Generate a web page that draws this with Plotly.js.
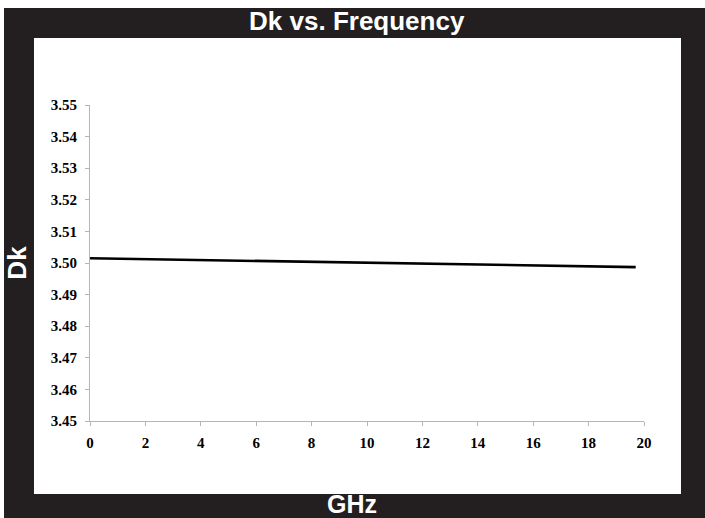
<!DOCTYPE html>
<html>
<head>
<meta charset="utf-8">
<script src="https://cdn.plot.ly/plotly-3.0.1.min.js"></script>
<style>html,body{margin:0;padding:0;background:#fff;}#chart{width:705px;height:518px;}</style>
</head>
<body>
<div id="chart"></div>
<script>
// Data
var freqGHz = [0, 5, 10, 15, 19.7];
var dkValues = [3.5015, 3.5008, 3.5001, 3.4994, 3.4987];
var xTickVals = [0, 2, 4, 6, 8, 10, 12, 14, 16, 18, 20];
var yTickVals = [3.45, 3.46, 3.47, 3.48, 3.49, 3.50, 3.51, 3.52, 3.53, 3.54, 3.55];
var chartTitle = 'Dk vs. Frequency';
var xTitle = 'GHz';
var yTitle = 'Dk';

var frameColor = '#231f20';
var tickFont = {family: 'Liberation Serif, Times New Roman, serif', size: 15, color: '#000', weight: 'bold'};
var titleFont = {family: 'Liberation Sans, Arial, Helvetica, sans-serif', size: 26, color: '#fff', weight: 'bold'};

var trace = {
  x: freqGHz,
  y: dkValues,
  type: 'scatter',
  mode: 'lines',
  line: {color: '#000', width: 2.6},
  hoverinfo: 'x+y'
};

var layout = {
  width: 705,
  height: 518,
  margin: {l: 90, r: 61, t: 105, b: 97, pad: 0},
  paper_bgcolor: '#fff',
  plot_bgcolor: '#fff',
  showlegend: false,
  title: {
    text: '<b>' + chartTitle + '</b>',
    font: titleFont,
    x: 0.506, xref: 'container', xanchor: 'center',
    y: 0.959, yref: 'container', yanchor: 'middle'
  },
  xaxis: {
    range: [0, 20],
    tickvals: xTickVals,
    ticktext: xTickVals.map(String),
    showgrid: false,
    zeroline: false,
    showline: true,
    linecolor: '#b5b5b5',
    linewidth: 1,
    ticks: 'outside',
    ticklen: 4,
    tickcolor: '#b5b5b5',
    tickfont: tickFont,
    ticklabelstandoff: 4,
    automargin: false
  },
  yaxis: {
    range: [3.45, 3.55],
    tickvals: yTickVals,
    tickformat: '.2f',
    showgrid: false,
    zeroline: false,
    showline: true,
    linecolor: '#b5b5b5',
    linewidth: 1,
    ticks: 'outside',
    ticklen: 4,
    tickcolor: '#b5b5b5',
    tickfont: tickFont,
    ticklabelstandoff: 5,
    automargin: false,
    title: {text: '<b>' + yTitle + '</b>', font: titleFont, standoff: 16}
  },
  shapes: [
    {type: 'rect', xref: 'paper', yref: 'paper', x0: -0.1552, x1: 1.13, y0: -0.33, y1: 1.307,
     fillcolor: frameColor, line: {width: 0}, layer: 'below'},
    {type: 'rect', xref: 'paper', yref: 'paper', x0: -0.1011, x1: 1.0668, y0: -0.2310, y1: 1.2120,
     fillcolor: '#fff', line: {width: 0}, layer: 'below'}
  ],
  annotations: [
    {text: '<b>' + xTitle + '</b>', xref: 'paper', yref: 'paper',
     x: (352 - 90) / 554, y: (421 - 504) / 316, xanchor: 'center', yanchor: 'middle',
     showarrow: false, font: Object.assign({}, titleFont, {size: 25}), borderpad: 0}
  ]
};

Plotly.newPlot('chart', [trace], layout, {displayModeBar: false, staticPlot: true});
</script>
</body>
</html>
